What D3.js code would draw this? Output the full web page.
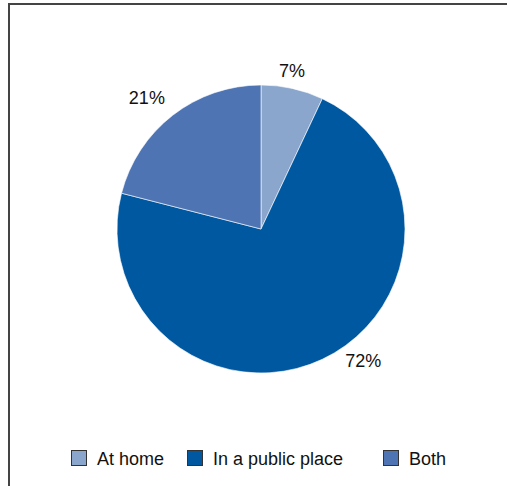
<!DOCTYPE html>
<html>
  <head>
    <meta charset="utf-8">
    <script src="https://d3js.org/d3.v7.min.js"></script>
    <style>
      body { margin: 0; background: #fff; }
      text { font-family: "Liberation Sans", Arial, sans-serif; fill: #111; }
    </style>
  </head>
  <body>
    <svg id="chart" width="507" height="486"></svg>
    <script>
      var categories = ["At home", "In a public place", "Both"];
      var shares = [7, 72, 21];
      var colors = ["#8aa6cd", "#0058a1", "#4e74b3"];

      var svg = d3.select("#chart");

      // frame (top and left edges only visible)
      svg.append("path")
        .attr("d", "M9,486V4H507")
        .attr("fill", "none")
        .attr("stroke", "#444")
        .attr("stroke-width", 2);

      var cx = 261, cy = 229, r = 144;

      var pie = d3.pie().sort(null).value(d => d);
      var arcs = pie(shares);

      var arc = d3.arc().innerRadius(0).outerRadius(r);

      var g = svg.append("g").attr("transform", "translate(" + cx + "," + cy + ")");

      g.selectAll("path.slice")
        .data(arcs)
        .enter()
        .append("path")
          .attr("class", "slice")
          .attr("d", arc)
          .attr("fill", (d, i) => colors[i])
          .attr("stroke", "#fff")
          .attr("stroke-width", 0.6);

      // labels sit outside the pie, nudged like the original
      var labelArc = d3.arc().innerRadius(165).outerRadius(165);
      var nudge = [[-5, 3], [32, -17], [-13, -1]];

      g.selectAll("text.pct")
        .data(arcs)
        .enter()
        .append("text")
          .attr("class", "pct")
          .attr("text-anchor", "middle")
          .attr("dominant-baseline", "central")
          .attr("font-size", 18)
          .attr("transform", (d, i) => {
            var c = labelArc.centroid(d);
            return "translate(" + (c[0] + nudge[i][0]) + "," + (c[1] + nudge[i][1]) + ")";
          })
          .text(d => d.data + "%");

      // legend
      var legendX = d3.scaleOrdinal().domain(categories).range([71, 187, 383]);
      var legend = svg.selectAll("g.leg")
        .data(categories)
        .enter()
        .append("g")
          .attr("class", "leg")
          .attr("transform", d => "translate(" + legendX(d) + ",450)");

      legend.append("rect")
        .attr("x", 0.5)
        .attr("y", 0.5)
        .attr("width", 15)
        .attr("height", 15)
        .attr("fill", (d, i) => colors[i])
        .attr("stroke", "#333")
        .attr("stroke-width", 1);

      legend.append("text")
        .attr("x", 26)
        .attr("y", 15)
        .attr("font-size", 18)
        .text(d => d);
    </script>
  </body>
</html>
